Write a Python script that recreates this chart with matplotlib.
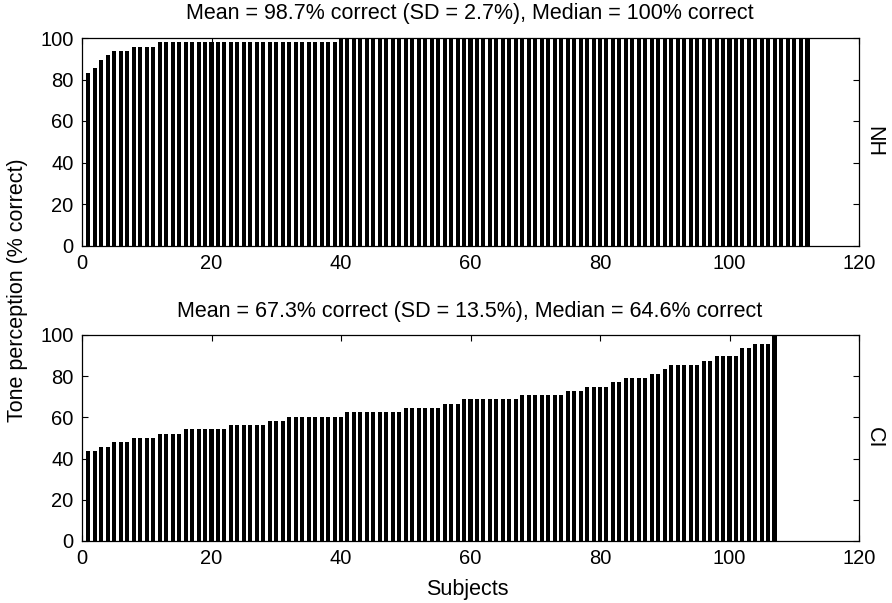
import matplotlib
matplotlib.use("Agg")
import matplotlib.pyplot as plt
import numpy as np

plt.rcParams['font.family'] = ['Liberation Sans', 'DejaVu Sans']

# NH group: sorted scores (% correct), 112 subjects
nh_levels = [83.33, 85.42, 89.58, 91.67, 93.75, 95.83, 97.92, 100.0]
nh_counts = [1, 1, 1, 1, 3, 4, 28, 73]
# CI group: sorted scores (% correct), 107 subjects
ci_levels = [43.75, 45.83, 47.92, 50.0, 52.08, 54.17, 56.25, 58.33, 60.42, 62.5,
             64.58, 66.67, 68.75, 70.83, 72.92, 75.0, 77.08, 79.17, 81.25, 83.33,
             85.42, 87.5, 89.58, 93.75, 95.83, 100.0]
ci_counts = [2, 2, 3, 4, 4, 7, 6, 3, 9, 9,
             6, 3, 9, 7, 3, 4, 2, 4, 2, 1,
             5, 2, 4, 2, 3, 1]

nh_scores = np.repeat(nh_levels, nh_counts)
ci_scores = np.repeat(ci_levels, ci_counts)

titles = ["Mean = 98.7% correct (SD = 2.7%), Median = 100% correct",
          "Mean = 67.3% correct (SD = 13.5%), Median = 64.6% correct"]
group_labels = ["NH", "CI"]
x_ticks = [0, 20, 40, 60, 80, 100, 120]
y_ticks = [0, 20, 40, 60, 80, 100]

W, H = 892, 603
fig = plt.figure(figsize=(W / 100, H / 100), dpi=100)

def ax_rect(left, top, right, bottom):
    return [left / W, 1 - bottom / H, (right - left) / W, (bottom - top) / H]

rects = [ax_rect(82, 38, 859, 245.5), ax_rect(82, 335, 859, 541)]
title_y = [13, 311]
label_y = [141.5, 438]
data = [nh_scores, ci_scores]

for rect, scores, title, glabel, ty, ly in zip(rects, data, titles, group_labels,
                                              title_y, label_y):
    ax = fig.add_axes(rect)
    x = np.arange(1, len(scores) + 1)
    widths = np.full(len(scores), 0.62)
    widths[-1] = 0.78
    ax.bar(x, scores, width=widths, color='black', edgecolor='none')
    ax.set_xlim(0, 120)
    ax.set_ylim(0, 100)
    ax.set_xticks(x_ticks)
    ax.set_yticks(y_ticks)
    ax.tick_params(direction='in', length=4, width=0.8, top=True, right=True,
                   labelsize=14.5, pad=6, colors='black')
    for s in ax.spines.values():
        s.set_linewidth(0.9)
        s.set_color('black')
    fig.text(470 / W, 1 - ty / H, title, ha='center', va='center', fontsize=15.5)
    fig.text(874 / W, 1 - ly / H, glabel, rotation=270,
             ha='center', va='center', fontsize=15.5)

fig.text(18 / W, 1 - 290 / H, "Tone perception (% correct)", rotation=90,
         ha='center', va='center', fontsize=15.5)
fig.text(467 / W, 1 - 590 / H, "Subjects", ha='center', va='center', fontsize=15.5)

fig.savefig("out.png", dpi=100)
